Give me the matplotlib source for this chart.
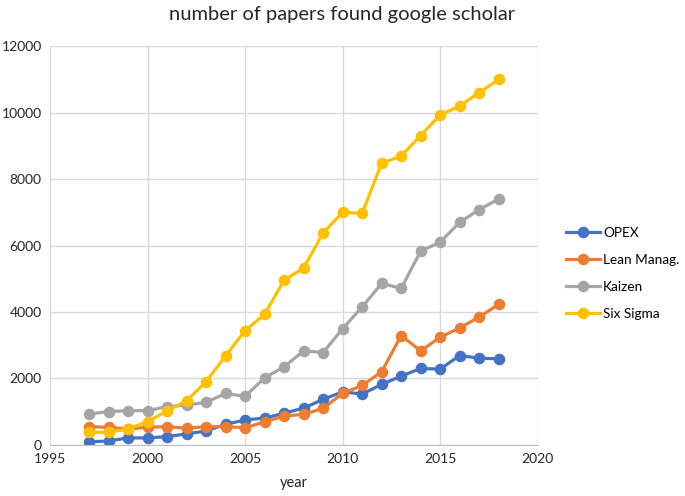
import matplotlib
matplotlib.use("Agg")
import matplotlib.pyplot as plt

plt.rcParams['font.family'] = ['Lato', 'DejaVu Sans']

# data
years = list(range(1997, 2019))
opex = [90, 120, 210, 210, 250, 330, 420, 620, 750, 810, 950, 1110,
        1370, 1600, 1530, 1820, 2070, 2300, 2280, 2690, 2610, 2590]
lean = [550, 530, 480, 530, 550, 500, 550, 550, 520, 690, 870, 920,
        1100, 1550, 1790, 2200, 3290, 2830, 3240, 3520, 3850, 4230]
kaizen = [930, 1000, 1030, 1030, 1150, 1200, 1280, 1550, 1460, 2020, 2350, 2830,
          2780, 3500, 4150, 4860, 4710, 5830, 6100, 6700, 7080, 7400]
six_sigma = [380, 380, 480, 700, 1020, 1330, 1900, 2680, 3440, 3930, 4960, 5320,
             6380, 7000, 6970, 8480, 8690, 9310, 9930, 10200, 10600, 11000]

series = [
    ("OPEX", opex, "#4472C4"),
    ("Lean Manag.", lean, "#ED7D31"),
    ("Kaizen", kaizen, "#A5A5A5"),
    ("Six Sigma", six_sigma, "#FFC000"),
]

fig = plt.figure(figsize=(6.85, 4.96), dpi=100)
ax = fig.add_axes([0.073, 0.103, 0.712, 0.804])

for name, vals, col in series:
    ax.plot(years, vals, color=col, lw=2.3, marker='o', ms=7.3, label=name)

ax.set_xlim(1995, 2020)
ax.set_ylim(0, 12000)
ax.set_xticks(range(1995, 2021, 5))
ax.set_yticks(range(0, 12001, 2000))
ax.grid(True, color='#d9d9d9', lw=1)
ax.set_axisbelow(True)
for s in ax.spines.values():
    s.set_visible(False)
ax.spines['bottom'].set_visible(True)
ax.spines['bottom'].set_color('#bfbfbf')
ax.tick_params(length=0, labelsize=10, colors='#262626', pad=6)

ax.set_xlabel("year", fontsize=10.5, color='#262626', labelpad=8)
fig.text(0.5, 0.971, "number of papers found google scholar", ha='center', va='center',
         fontsize=14.5, color='#262626')

ax.legend(loc='center left', bbox_to_anchor=(1.042, 0.43), frameon=False,
          fontsize=9.8, handlelength=2.5, labelspacing=1.1, handletextpad=0.2,
          borderaxespad=0.2)

fig.savefig("out.png", dpi=100)
